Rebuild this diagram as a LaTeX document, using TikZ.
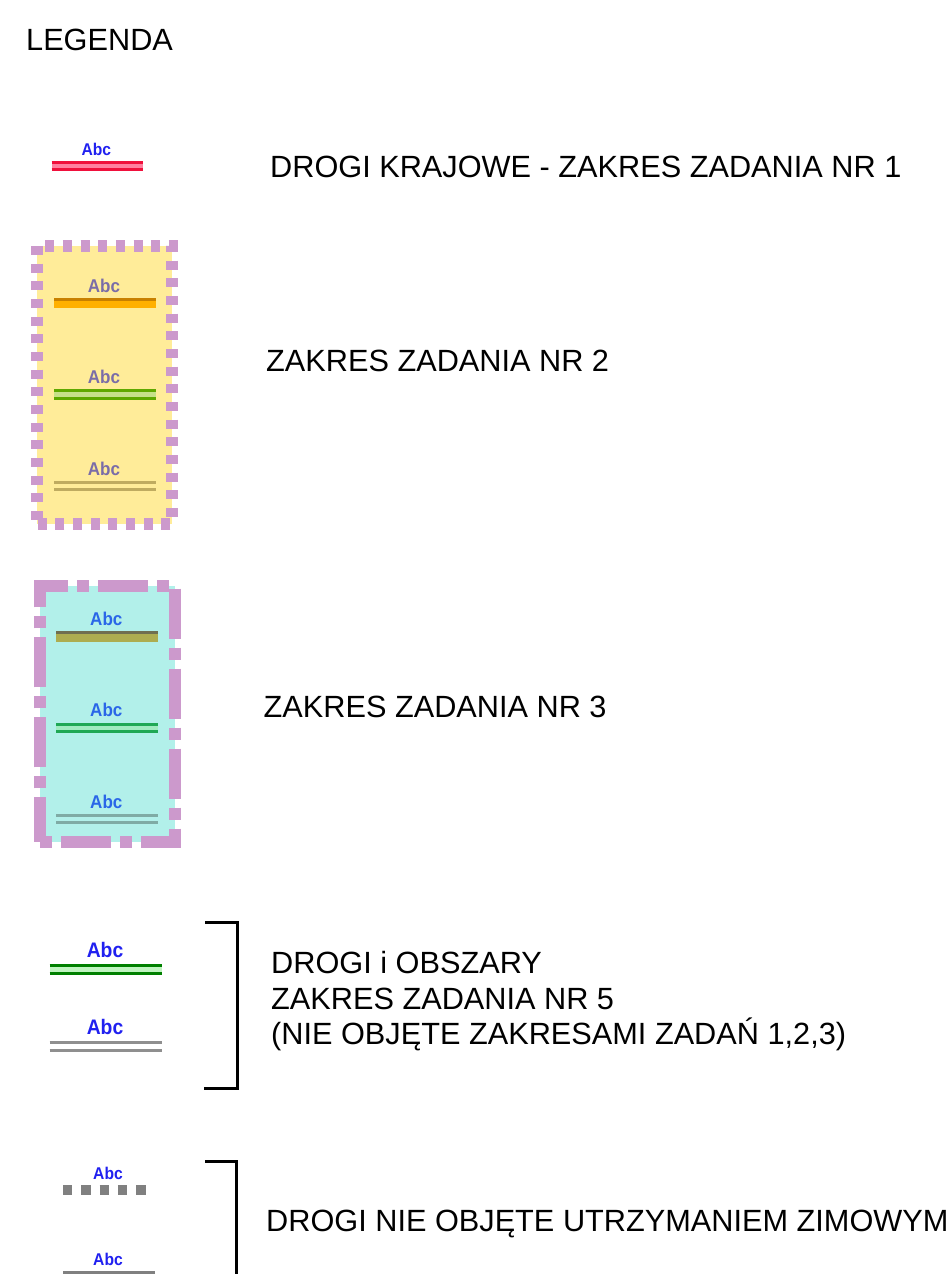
\documentclass[tikz,border=0pt]{standalone}
\usepackage{fontspec}
\setmainfont{Liberation Sans}
\newfontfamily\abcfont[FakeStretch=0.92]{Liberation Sans Bold}
\definecolor{boxpurple}{HTML}{CC99CC}
\definecolor{zoneA}{HTML}{FFEC99}
\definecolor{zoneB}{HTML}{B2F0EA}
\definecolor{abcblue}{HTML}{2020F0}
\definecolor{abcviolet}{HTML}{7A6DA8}
\definecolor{abccyan}{HTML}{2A66E8}
\definecolor{roadred}{HTML}{F0103C}
\definecolor{roadpink}{HTML}{FF80A0}
\definecolor{orangefill}{HTML}{FFB000}
\definecolor{orangetop}{HTML}{C88000}
\definecolor{limefill}{HTML}{C6E08A}
\definecolor{limeline}{HTML}{5FA800}
\definecolor{tanline}{HTML}{BFAB60}
\definecolor{olivefill}{HTML}{ADAD50}
\definecolor{olivetop}{HTML}{6F6F50}
\definecolor{jadefill}{HTML}{A0EBC0}
\definecolor{jadeline}{HTML}{1FA855}
\definecolor{tealline}{HTML}{7FABA5}
\definecolor{greenfill}{HTML}{C0F5C0}
\definecolor{greenline}{HTML}{008000}
\definecolor{grayline}{HTML}{8F8F8F}
\definecolor{darkgrayline}{HTML}{808080}
\tikzset{
  x=1pt,y=-1pt,
  legendtext/.style={anchor=base west,inner sep=0pt,font=\fontsize{30.7}{30.7}\selectfont,text=black},
  abc/.style={anchor=base,inner sep=0pt,font=\abcfont\fontsize{17}{17}\selectfont,text=abcblue},
  abcbig/.style={anchor=base,inner sep=0pt,font=\abcfont\fontsize{21}{21}\selectfont,text=abcblue},
  abcA/.style={anchor=base,inner sep=0pt,font=\abcfont\fontsize{18.5}{18.5}\selectfont,text=abcviolet},
  abcB/.style={anchor=base,inner sep=0pt,font=\abcfont\fontsize{18.5}{18.5}\selectfont,text=abccyan},
  bracket/.style={draw=black,line width=3pt,miter limit=10},
  dotborder/.style={draw=boxpurple,line width=12pt,dash pattern=on 9pt off 8.67pt},
  dashborder/.style={draw=boxpurple,line width=12pt,dash pattern=on 50pt off 9pt on 12pt off 9pt},
  rail/.style={line width=3pt}
}
\begin{document}
\begin{tikzpicture}
\useasboundingbox (0,0) rectangle (949,1274);
\fill[white] (0,0) rectangle (949,1274);
\node[legendtext] (title) at (26,50.5) {LEGENDA};
% road 1
\fill[roadpink] (51.7,161) rectangle (143,171);
\draw[line width=2.5pt,roadred] (51.7,162.3) -- (143,162.3);
\draw[line width=2.5pt,roadred] (51.7,169.7) -- (143,169.7);
\node[abc] (abc1) at (96.3,155.5) {Abc};
\node[legendtext] (t1) at (270,177.5) {DROGI KRAJOWE - ZAKRES ZADANIA NR 1};
% zone 2
\fill[zoneA] (37,246) rectangle (172,524);
\draw[dotborder,dash phase=9.17pt] (36.8,246) -- (172,246) -- (172,524) -- (36.8,524);
\draw[dotborder] (36.8,246) -- (36.8,524);
\fill[orangefill] (54.3,297.7) rectangle (155.7,308.3);
\fill[orangetop] (54.3,297.7) rectangle (155.7,301);
\node[abcA] (abc2a) at (104,292) {Abc};
\fill[limefill] (54.3,390) rectangle (155.7,399);
\draw[rail,limeline] (54.3,390.7) -- (155.7,390.7);
\draw[rail,limeline] (54.3,398.3) -- (155.7,398.3);
\node[abcA] (abc2b) at (104,383.5) {Abc};
\draw[rail,tanline] (54.3,482) -- (155.7,482);
\draw[rail,tanline] (54.3,489.7) -- (155.7,489.7);
\node[abcA] (abc2c) at (104,475) {Abc};
\node[legendtext] (t2) at (266,371.5) {ZAKRES ZADANIA NR 2};
% zone 3
\fill[zoneB] (40,586) rectangle (175,841.7);
\draw[dashborder,dash phase=5.6pt] (40,841.7) -- (40,585.5) -- (175,585.5) -- (175,847.7);
\draw[dashborder,dash phase=15.7pt] (175,841.7) -- (40,841.7);
\fill[olivefill] (56.3,630.7) rectangle (157.7,641.7);
\fill[olivetop] (56.3,630.7) rectangle (157.7,634);
\node[abcB] (abc3a) at (106.3,625.5) {Abc};
\fill[jadefill] (56.3,724) rectangle (157.7,731.3);
\draw[rail,jadeline] (56.3,724) -- (157.7,724);
\draw[rail,jadeline] (56.3,731.3) -- (157.7,731.3);
\node[abcB] (abc3b) at (106.3,716.5) {Abc};
\draw[rail,tealline] (56.3,815) -- (157.7,815);
\draw[rail,tealline] (56.3,822.7) -- (157.7,822.7);
\node[abcB] (abc3c) at (106.3,808) {Abc};
\node[legendtext] (t3) at (263.5,717.5) {ZAKRES ZADANIA NR 3};
% section 5
\fill[greenfill] (49.7,965) rectangle (162.3,973.7);
\draw[rail,greenline] (49.7,965) -- (162.3,965);
\draw[rail,greenline] (49.7,973.7) -- (162.3,973.7);
\node[abcbig] (abc5a) at (105,957) {Abc};
\draw[rail,grayline] (49.7,1042) -- (162.3,1042);
\draw[rail,grayline] (49.7,1050.7) -- (162.3,1050.7);
\node[abcbig] (abc5b) at (105,1034) {Abc};
\coordinate (b5a) at (205.3,922);
\coordinate (b5b) at (237.3,922);
\coordinate (b5c) at (237.3,1088);
\coordinate (b5d) at (204,1088);
\draw[bracket] (b5a) -- (b5b) -- (b5c) -- (b5d);
\node[legendtext] (t5a) at (271,973.5) {DROGI i OBSZARY};
\node[legendtext] (t5b) at (271,1009) {ZAKRES ZADANIA NR 5};
\node[legendtext] (t5c) at (271,1044.5) {(NIE OBJĘTE ZAKRESAMI ZADAŃ 1,2,3)};
% section 6
\draw[darkgrayline,line width=9.6pt,dash pattern=on 9.3pt off 9pt] (63,1189.9) -- (145.8,1189.9);
\node[abc] (abc6a) at (108,1179.5) {Abc};
\fill[darkgrayline] (63,1270.7) rectangle (154.7,1274);
\node[abc] (abc6b) at (108,1265.5) {Abc};
\coordinate (b6a) at (205.3,1161);
\coordinate (b6b) at (236.7,1161);
\coordinate (b6c) at (236.7,1274);
\draw[bracket] (b6a) -- (b6b) -- (b6c);
\node[legendtext] (t6) at (266,1231) {DROGI NIE OBJĘTE UTRZYMANIEM ZIMOWYM};
\end{tikzpicture}
\end{document}
